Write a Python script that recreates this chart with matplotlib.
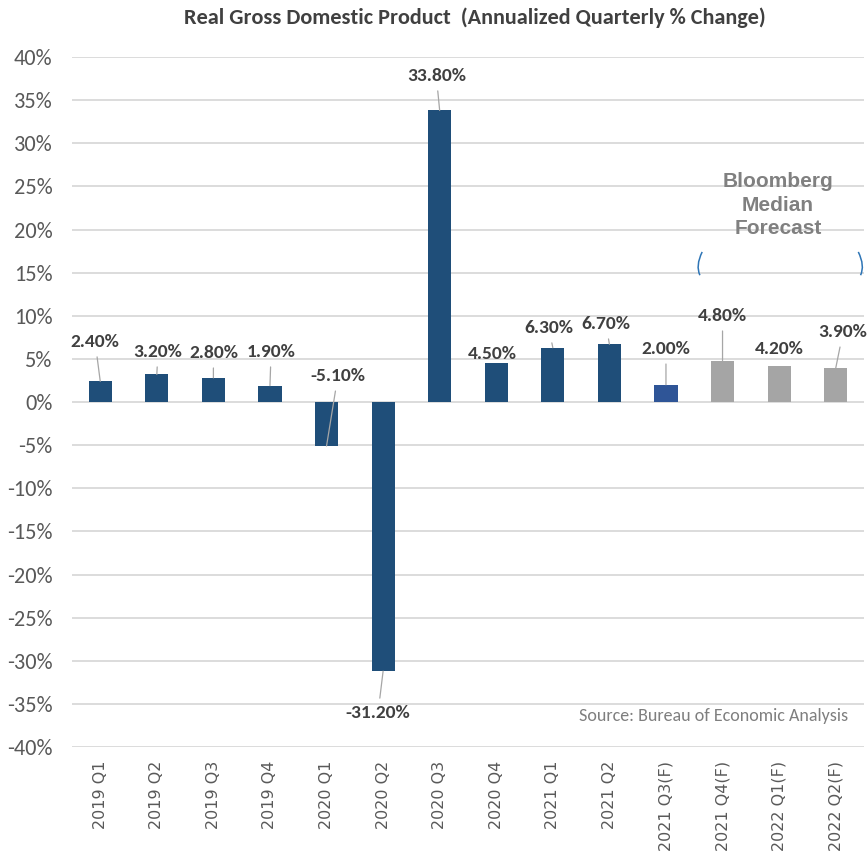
import matplotlib.pyplot as plt
from matplotlib.path import Path
from matplotlib.patches import PathPatch
from matplotlib.ticker import FuncFormatter

# 데이터
quarters = ['2019 Q1', '2019 Q2', '2019 Q3', '2019 Q4', '2020 Q1', '2020 Q2', '2020 Q3',
            '2020 Q4', '2021 Q1', '2021 Q2', '2021 Q3(F)', '2021 Q4(F)', '2022 Q1(F)', '2022 Q2(F)']
gdp = [2.4, 3.2, 2.8, 1.9, -5.1, -31.2, 33.8, 4.5, 6.3, 6.7, 2.0, 4.8, 4.2, 3.9]
kind = ['a'] * 10 + ['now'] + ['fc'] * 3

# 라벨 위치 (텍스트 중심, 데이터 좌표)
lab_x = [-0.09, 1.02, 2.0, 3.02, 4.2, 4.91, 5.94, 6.94, 7.93, 8.94, 10.0, 11.0, 12.01, 13.13]
lab_y = [6.96, 5.8, 5.68, 5.8, 3.0, -36.06, 37.8, 5.57, 8.58, 9.04, 6.14, 9.97, 6.14, 8.1]
leader = [1, 1, 1, 1, 1, 1, 1, 0, 1, 1, 1, 1, 0, 1]

colors = {'a': '#1F4E79', 'now': '#2F5597', 'fc': '#A5A5A5'}
narrow = ['Carlito', 'DejaVu Sans']

fig = plt.figure(figsize=(8.67, 8.56), dpi=100)
ax = fig.add_axes([0.083, 0.1273, 0.9135, 0.8061])

x = list(range(len(quarters)))
ax.bar(x, gdp, width=0.41, color=[colors[k] for k in kind], zorder=3)

ax.set_xlim(-0.5, len(quarters) - 0.5)
ax.set_ylim(-40, 40)
ax.set_yticks(range(-40, 41, 5))
ax.yaxis.set_major_formatter(FuncFormatter(lambda v, p: '%d%%' % v))
ax.grid(axis='y', color='#D9D9D9', linewidth=1.3, zorder=0)
for s in ax.spines.values():
    s.set_visible(False)
ax.tick_params(axis='y', length=0, pad=14, labelsize=16, labelcolor='#595959')
ax.tick_params(axis='x', length=0, pad=10, labelsize=11.5, labelcolor='#595959')
for t in ax.get_yticklabels():
    t.set_family(narrow)
ax.set_xticks(x)
ax.set_xticklabels(quarters, rotation=90, va='top', ha='center', family='DejaVu Sans')

# 값 라벨 + 지시선
for i, v in enumerate(gdp):
    ap = dict(arrowstyle='-', color='#A6A6A6', lw=0.9, shrinkA=3, shrinkB=0) if leader[i] else None
    ax.annotate('%.2f%%' % v, xy=(i, v), xytext=(lab_x[i], lab_y[i]), textcoords='data',
                ha='center', va='center', fontsize=14, fontweight='bold', color='#404040',
                family=narrow, arrowprops=ap, zorder=5)

# 예측 표시
ax.text(11.98, 22.8, 'Bloomberg\nMedian\nForecast', ha='center', va='center', fontsize=15,
        fontweight='bold', color='#808080', family=['Liberation Sans', 'DejaVu Sans'],
        linespacing=1.3)
left_arc = Path([(10.64, 17.4), (10.52, 15.8), (10.6, 14.7)], [Path.MOVETO, Path.CURVE3, Path.CURVE3])
right_arc = Path([(13.40, 17.4), (13.52, 15.8), (13.44, 14.7)], [Path.MOVETO, Path.CURVE3, Path.CURVE3])
for pth in (left_arc, right_arc):
    ax.add_patch(PathPatch(pth, fill=False, edgecolor='#2E75B6', lw=1.1, zorder=4))

ax.text(0.98, 0.045, 'Source: Bureau of Economic Analysis', transform=ax.transAxes,
        ha='right', va='center', fontsize=13, color='#7F7F7F', family=narrow)

fig.text(0.548, 0.979, 'Real Gross Domestic Product  (Annualized Quarterly % Change)',
         ha='center', va='center', fontsize=16, fontweight='bold', color='#404040', family=narrow)

plt.savefig('out.png', dpi=100)
